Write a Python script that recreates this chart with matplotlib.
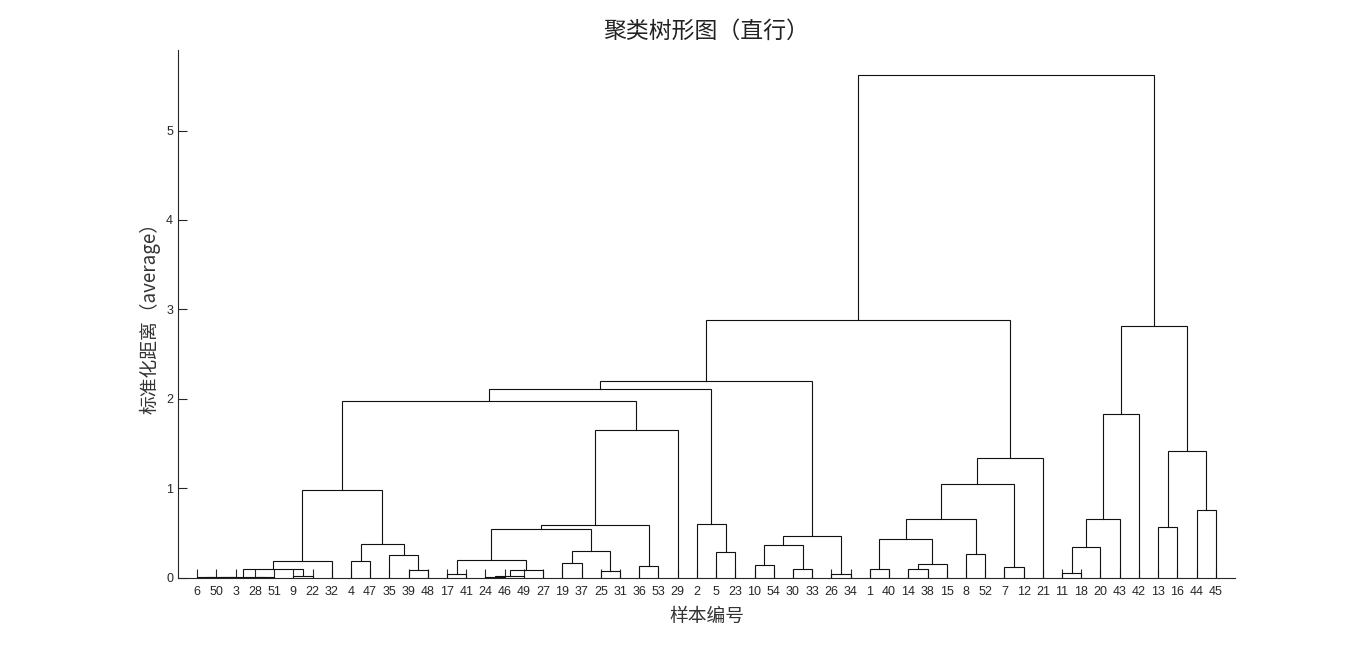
import matplotlib
matplotlib.use("Agg")
import matplotlib.pyplot as plt

# leaf order along the x axis (sample numbers)
leaf_order = [6, 50, 3, 28, 51, 9, 22, 32, 4, 47, 35, 39, 48, 17, 41, 24, 46, 49, 27,
              19, 37, 25, 31, 36, 53, 29, 2, 5, 23, 10, 54, 30, 33, 26, 34, 1, 40,
              14, 38, 15, 8, 52, 7, 12, 21, 11, 18, 20, 43, 42, 13, 16, 44, 45]
N_LEAF = 54

# linkage rows, MATLAB style: ids 1..54 are samples, 55+k is the cluster made by row k
link_a = [6, 24, 28, 55, 58, 9, 56, 17, 26, 11, 25, 61, 39, 59, 1, 14, 30, 7, 36, 10,
          70, 19, 4, 68, 62, 35, 8, 5, 76, 64, 74, 77, 69, 85, 79, 13, 89, 2, 84, 87,
          44, 78, 94, 97, 90, 91, 93, 96, 102, 103, 101, 104, 106]
link_b = [50, 46, 51, 3, 57, 22, 49, 41, 34, 18, 31, 27, 48, 60, 40, 38, 33, 12, 53, 54,
          15, 37, 47, 32, 66, 67, 52, 23, 65, 20, 71, 80, 75, 63, 83, 16, 73, 82, 43, 81,
          45, 86, 72, 21, 95, 29, 42, 100, 92, 88, 99, 98, 105]
link_h = [0.002, 0.003, 0.004, 0.005, 0.007, 0.012, 0.018, 0.035, 0.035, 0.047, 0.07,
          0.08, 0.08, 0.09, 0.095, 0.095, 0.10, 0.12, 0.13, 0.14, 0.147, 0.16, 0.18, 0.18,
          0.195, 0.25, 0.26, 0.28, 0.30, 0.34, 0.36, 0.37, 0.43, 0.46, 0.545, 0.56, 0.59,
          0.595, 0.65, 0.66, 0.75, 0.98, 1.05, 1.34, 1.41, 1.65, 1.83, 1.97, 2.11, 2.20,
          2.81, 2.88, 5.62]

CJK = ['Noto Sans CJK SC', 'DejaVu Sans']
GRAY = '#262626'

fig = plt.figure(figsize=(13.66, 6.5), dpi=100)
ax = fig.add_axes([0.1303, 0.1115, 0.7738, 0.8115])

xpos = {leaf: i + 1 for i, leaf in enumerate(leaf_order)}
ypos = {leaf: 0.0 for leaf in leaf_order}
for k, (a, b, h) in enumerate(zip(link_a, link_b, link_h)):
    xa, xb = xpos[a], xpos[b]
    ax.plot([xa, xa, xb, xb], [ypos[a], h, h, ypos[b]], color='#111111', lw=0.8,
            solid_joinstyle='miter')
    xpos[N_LEAF + 1 + k] = (xa + xb) / 2
    ypos[N_LEAF + 1 + k] = h

ax.set_xlim(0, N_LEAF + 1)
ax.set_ylim(0, max(link_h) * 1.05)
ax.set_xticks(range(1, N_LEAF + 1))
ax.set_xticklabels([str(v) for v in leaf_order])
ax.set_yticks(range(0, 6))

for s in ['top', 'right']:
    ax.spines[s].set_visible(False)
for s in ['left', 'bottom']:
    ax.spines[s].set_color(GRAY)
    ax.spines[s].set_linewidth(0.8)
ax.tick_params(direction='in', length=6.5, width=0.8, color=GRAY, labelcolor=GRAY,
               labelsize=9)
ax.tick_params(axis='x', pad=6)
for lab in ax.get_xticklabels() + ax.get_yticklabels():
    lab.set_family('Liberation Sans')

ax.set_title('聚类树形图（直行）', family=CJK, fontsize=16.5, color='#222222', pad=9)
ax.set_xlabel('样本编号', family=CJK, fontsize=13.5, color='#333333', labelpad=6)
ax.set_ylabel('标准化距离（average）', family=CJK, fontsize=13.5, color='#333333',
              labelpad=4)

fig.savefig('out.png', dpi=100)
